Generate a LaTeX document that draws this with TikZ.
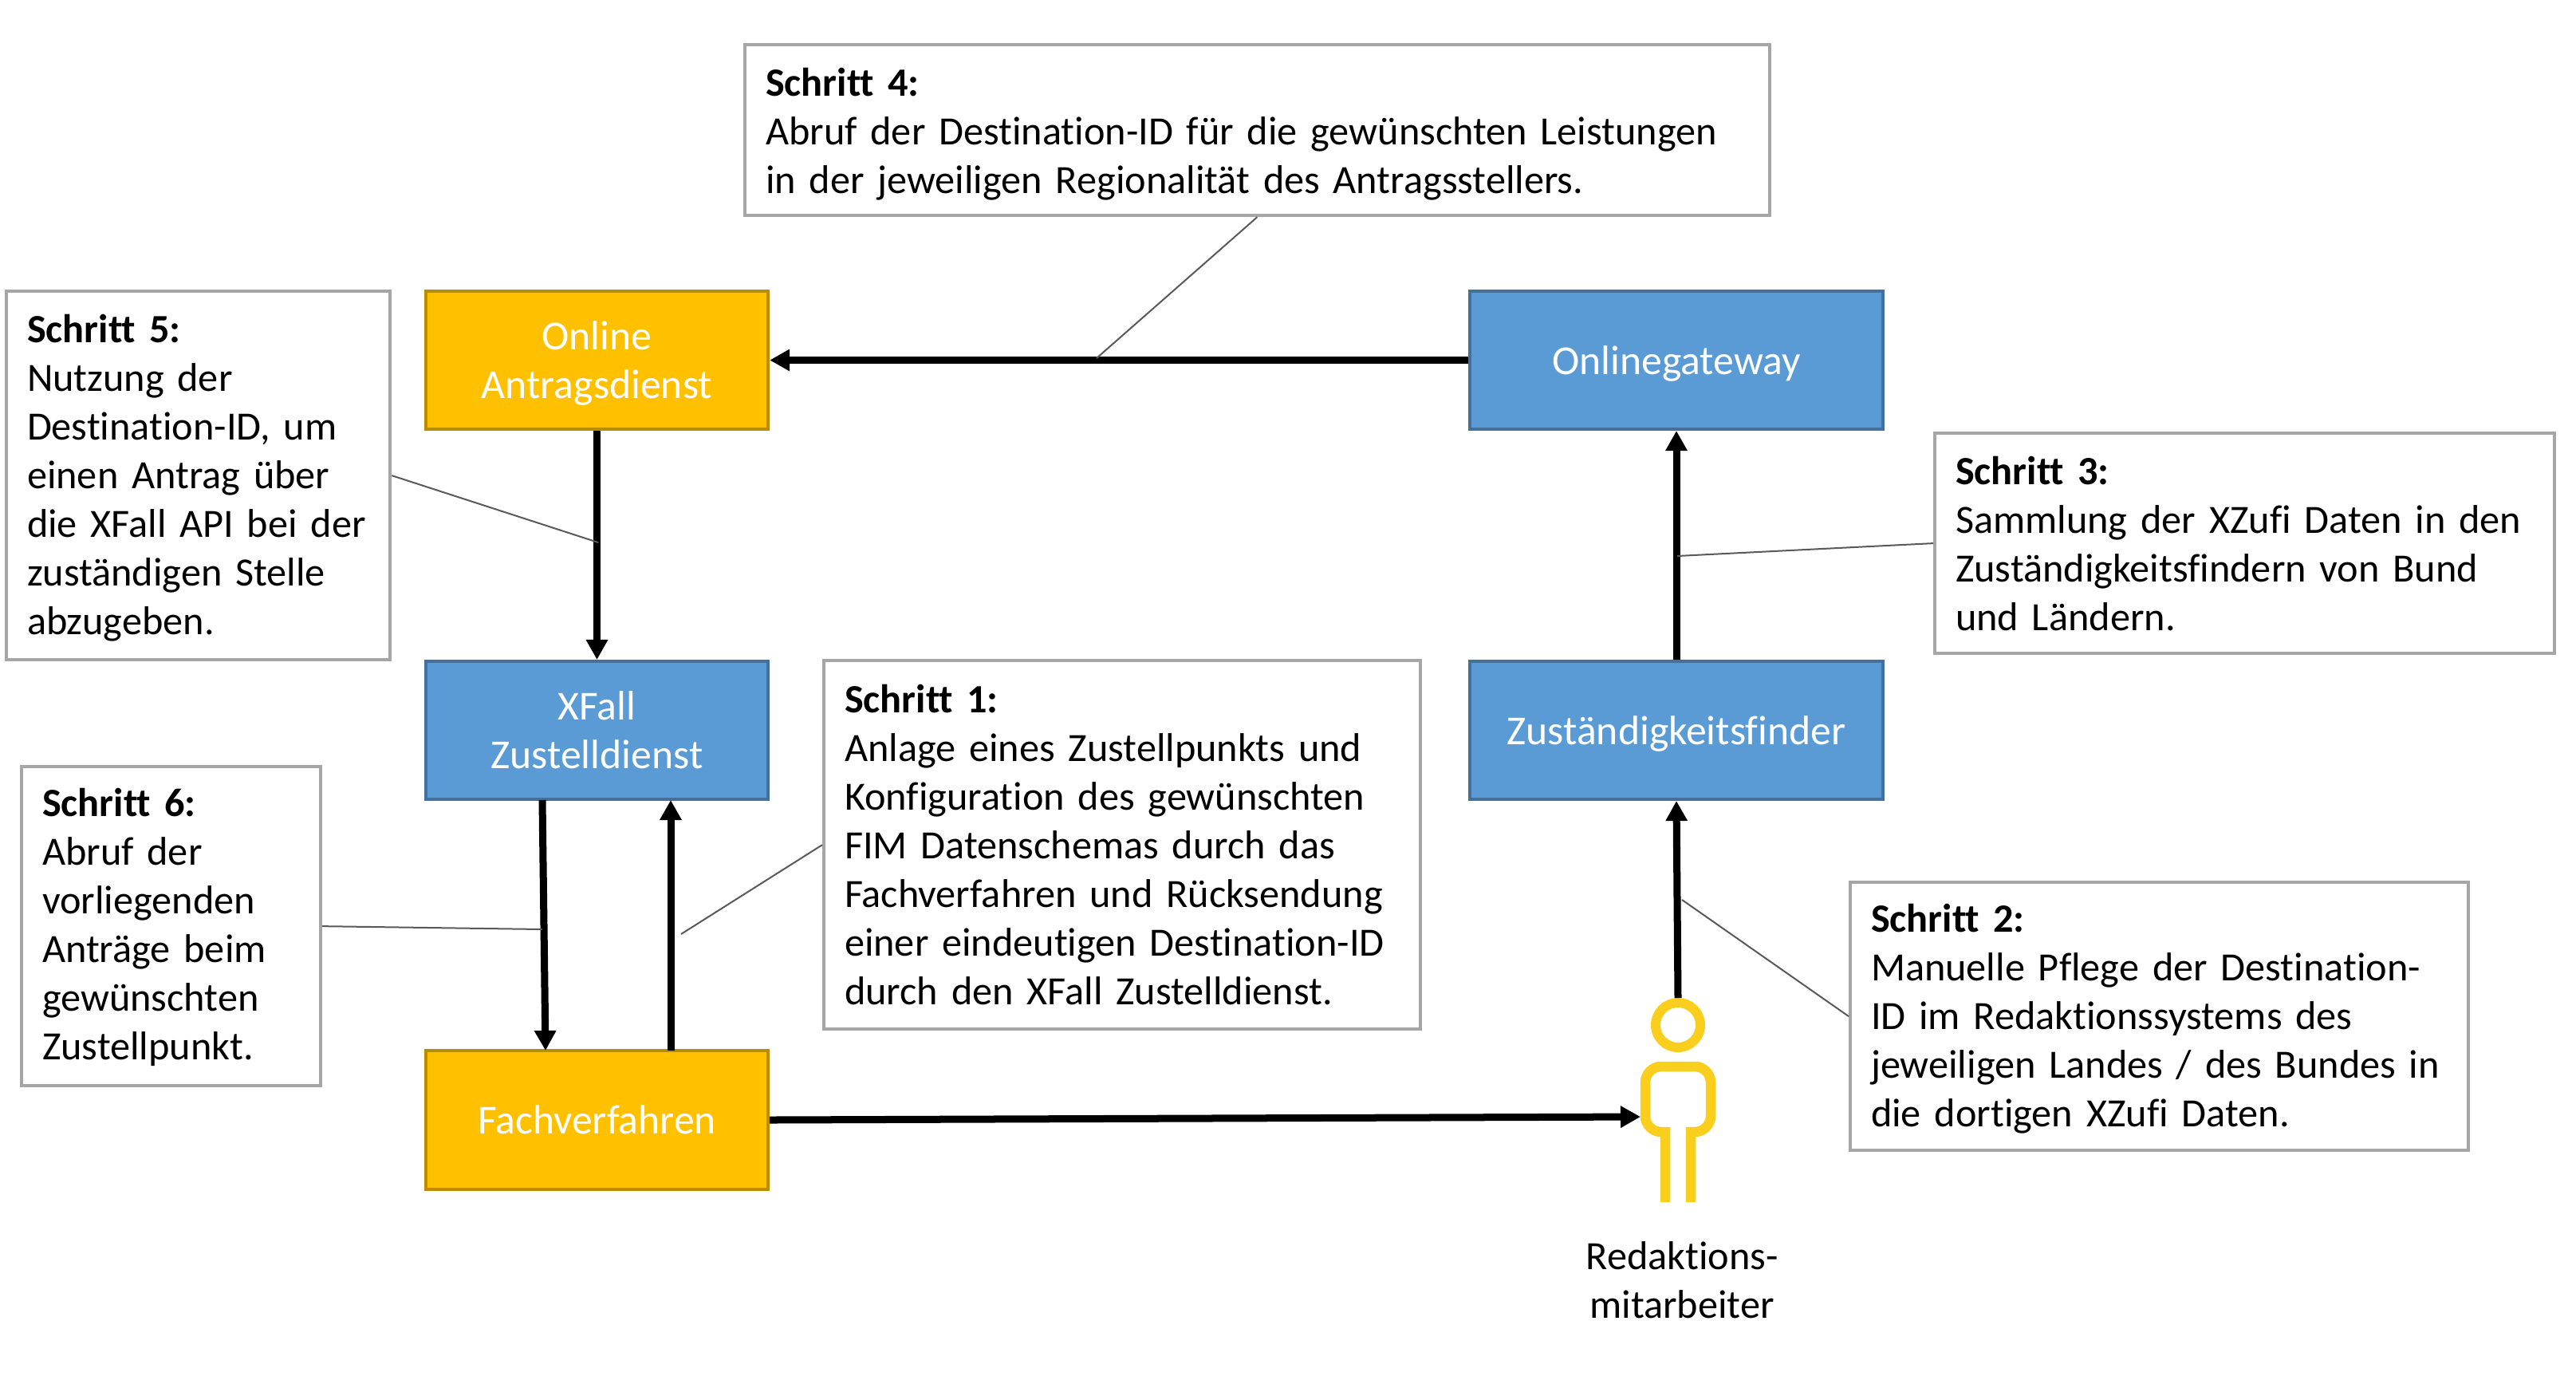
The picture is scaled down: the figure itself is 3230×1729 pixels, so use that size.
\documentclass[tikz,border=0pt]{standalone}
\usepackage{fontspec}
\setmainfont[Ligatures=NoCommon, WordSpace=0.85]{Carlito}
\usetikzlibrary{positioning, arrows.meta}
\definecolor{gelb}{HTML}{FFC000}
\definecolor{gelbrand}{HTML}{BC8C00}
\definecolor{blau}{HTML}{5B9BD5}
\definecolor{blaurand}{HTML}{41719C}
\definecolor{kasten}{HTML}{A6A6A6}
\definecolor{leitlinie}{HTML}{595959}
\definecolor{figur}{HTML}{F9CE1D}
\tikzset{
    dienst/.style={draw, line width=.04cm, text=white, align=center, minimum height=1.73cm, text depth=0pt, font=\fontsize{14.7}{17.35}\selectfont},
    dienstgelb/.style={dienst, fill=gelb, draw=gelbrand, minimum width=4.29cm},
    dienstblau/.style={dienst, fill=blau, draw=blaurand},
    schritt/.style={draw=kasten, line width=.04cm, fill=white, align=left, anchor=north west, inner xsep=.26cm, inner ysep=0pt, execute at begin node={\rule{0pt}{#1}}, font=\fontsize{14.3}{17.35}\selectfont},
    schritt/.default=.45cm,
    pfeil/.style={line width=.09cm, -{Triangle[length=.25cm,width=.26cm]}},
    leitung/.style={leitlinie, line width=.02cm},
    figurlinie/.style={figur, line width=.125cm}
}
\begin{document}
\begin{tikzpicture}[x=.01cm, y=-.01cm]
    \useasboundingbox (0,0) rectangle (3230,1729);
    \node[dienstgelb] (online) at (748.5,451.5) {Online\\Antragsdienst};
    \node[dienstblau, minimum width=4.29cm] (xfall) at (748.5,915.5) {XFall\\Zustelldienst};
    \node[dienstgelb] (fachverfahren) at (748.5,1404) {Fachverfahren};
    \node[dienstblau, minimum width=5.18cm] (gateway) at (2102,451.5) {Onlinegateway};
    \node[dienstblau, minimum width=5.18cm] (finder) at (2102,915.5) {Zuständigkeitsfinder};

    \node[schritt, text width=12.32cm, minimum height=2.14cm] (schritt4) at (932,54) {\textbf{Schritt 4:}\\Abruf der Destination-ID für die gewünschten Leistungen\\in der jeweiligen Regionalität des Antragsstellers.};
    \node[schritt=.41cm, text width=4.29cm, minimum height=4.62cm] (schritt5) at (6,363) {\textbf{Schritt 5:}\\Nutzung der\\Destination-ID, um\\einen Antrag über\\die XFall API bei der\\zuständigen Stelle\\abzugeben.};
    \node[schritt=.37cm, text width=3.23cm, minimum height=4.00cm] (schritt6) at (25,959) {\textbf{Schritt 6:}\\Abruf der\\vorliegenden\\Anträge beim\\gewünschten\\Zustellpunkt.};
    \node[schritt=0pt, text width=6.96cm, minimum height=4.62cm] (schritt1) at (1031,826) {\textbf{Schritt 1:}\\Anlage eines Zustellpunkts und\\Konfiguration des gewünschten\\FIM Datenschemas durch das\\Fachverfahren und Rücksendung\\einer eindeutigen Destination-ID\\durch den XFall Zustelldienst.};
    \node[schritt=0pt, text width=7.25cm, minimum height=2.76cm] (schritt3) at (2424,541) {\textbf{Schritt 3:}\\Sammlung der XZufi Daten in den\\Zuständigkeitsfindern von Bund\\und Ländern.};
    \node[schritt=.41cm, text width=7.23cm, minimum height=3.36cm] (schritt2) at (2318,1104) {\textbf{Schritt 2:}\\Manuelle Pflege der Destination-\\ID im Redaktionssystems des\\jeweiligen Landes / des Bundes in\\die dortigen XZufi Daten.};

    \node[circle, draw=figur, line width=.12cm, minimum size=.56cm, inner sep=0pt] (kopf) at (2104,1285) {};
    \draw[figurlinie] (2088,1507) -- (2088,1419) [rounded corners=.2cm] -- (2063,1419) -- (2063,1337) -- (2145,1337) -- (2145,1419) [sharp corners] -- (2120,1419) -- (2120,1507);
    \coordinate (koerper) at (2057,1400);
    \node[align=center, font=\fontsize{14.3}{17.35}\selectfont] (redaktion) at (2109,1605) {Redaktions-\\mitarbeiter};

    \coordinate (xfallab) at (680,1003);
    \coordinate (fachauf) at (684,1317);
    \coordinate (fachab) at (841,1317);
    \coordinate (xfallan) at (841,1003);
    \draw[pfeil] (gateway) -- (online);
    \draw[pfeil] (online) -- (xfall);
    \draw[pfeil] (xfallab) -- (fachauf);
    \draw[pfeil] (fachab) -- (xfallan);
    \draw[pfeil] (fachverfahren.east) -- (koerper);
    \draw[pfeil] (kopf.north) -- (finder.south);
    \draw[pfeil] (finder) -- (gateway);

    \coordinate (ziel4) at (1375,449);
    \coordinate (ziel5) at (750,680);
    \coordinate (ziel6) at (680,1165);
    \coordinate (ziel1) at (854,1171);
    \coordinate (ziel3) at (2103,697);
    \coordinate (ziel2) at (2109,1128);
    \draw[leitung] (schritt4.south) -- (ziel4);
    \draw[leitung] (schritt5.east) -- (ziel5);
    \draw[leitung] (schritt6.east) -- (ziel6);
    \draw[leitung] (schritt1.west) -- (ziel1);
    \draw[leitung] (schritt3.west) -- (ziel3);
    \draw[leitung] (schritt2.west) -- (ziel2);
\end{tikzpicture}
\end{document}
